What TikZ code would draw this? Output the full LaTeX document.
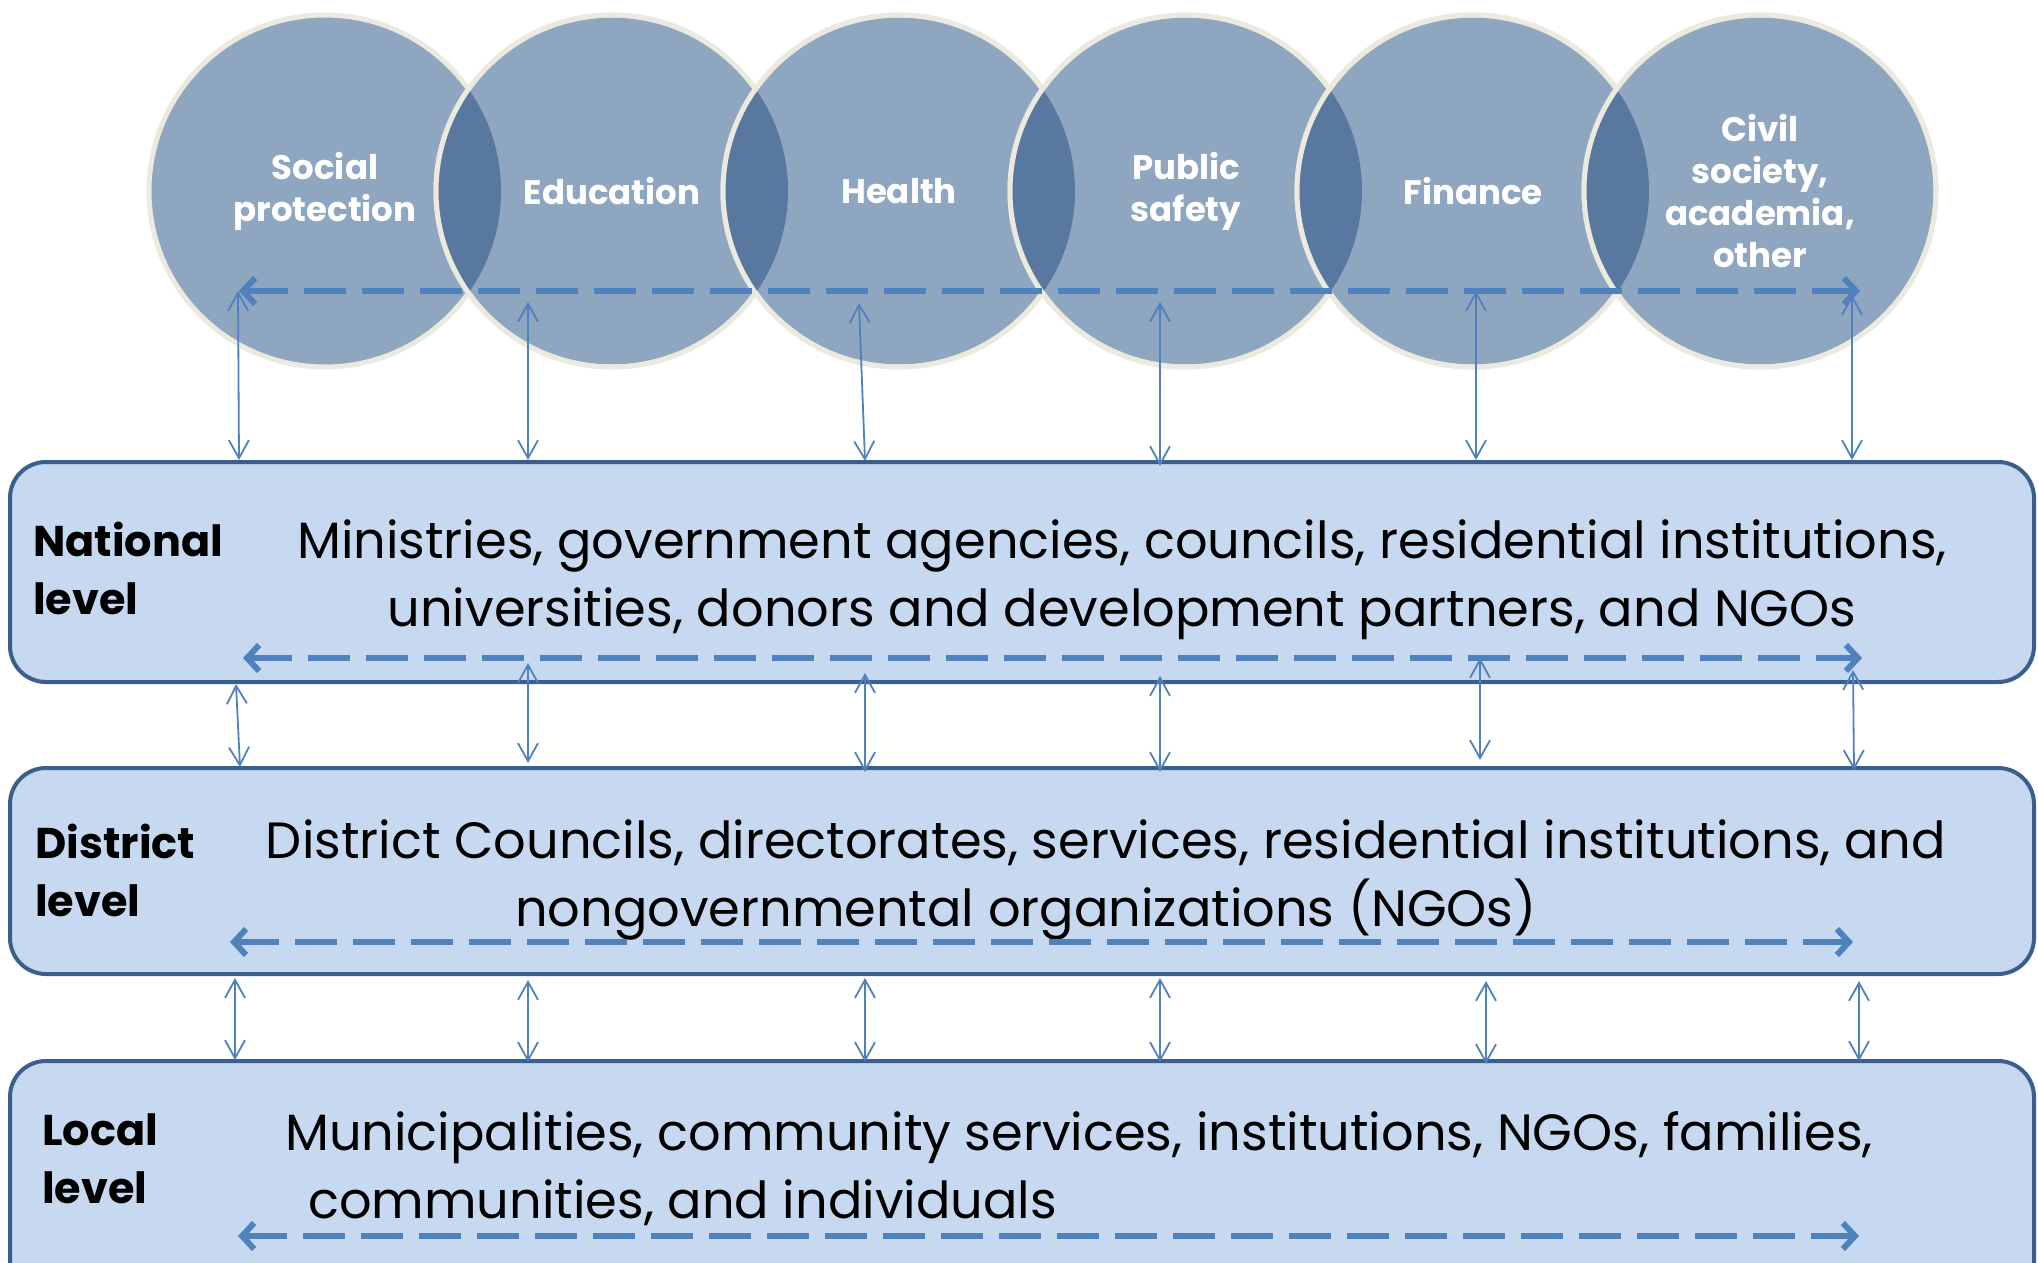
\documentclass[tikz,border=0pt]{standalone}
\usepackage{fontspec}
\setmainfont{Poppins}
\usetikzlibrary{arrows.meta}
\definecolor{sectorfill}{HTML}{8FA6C1}
\definecolor{lensfill}{HTML}{5878A0}
\definecolor{rimcol}{HTML}{ECE9DF}
\definecolor{boxfill}{HTML}{C6D9F0}
\definecolor{boxline}{HTML}{3B5F8C}
\definecolor{linkcol}{HTML}{4F81BD}
\begin{document}
\begin{tikzpicture}[x=1pt,y=-1pt]
  \tikzstyle{sector}=[circle, fill=sectorfill, draw=rimcol, line width=5pt, minimum size=352pt,
    inner sep=0pt, text=white, align=center, font=\fontsize{34}{42}\selectfont\bfseries]
  \tikzstyle{rim}=[draw=rimcol, line width=5pt]
  \tikzstyle{lens}=[fill=lensfill]
  \tikzstyle{levelbox}=[draw=boxline, fill=boxfill, line width=4pt, rounded corners=36pt,
    minimum width=2024pt, inner sep=0pt]
  \tikzstyle{levelname}=[anchor=west, align=left, inner sep=0pt, font=\fontsize{43}{58}\selectfont\bfseries]
  \tikzstyle{leveltext}=[inner sep=0pt, font=\fontsize{51}{68}\selectfont]
  \tikzstyle{link}=[draw=linkcol, line width=1.8pt, {Straight Barb[length=18pt,width=20pt]}-{Straight Barb[length=18pt,width=20pt]}]
  \tikzstyle{flow}=[draw=linkcol, line width=6pt, dash pattern=on 42pt off 16pt,
    {Straight Barb[length=12pt,width=26pt]}-{Straight Barb[length=12pt,width=26pt]}]

  \clip (0,0) rectangle (2038,1263);

  % sectors, each one overlapping the previous
  \node[sector] (soc) at (325,191) {Social\\protection};
  \node[sector] (edu) at (612,191) {Education};
  \begin{scope} \clip (soc.center) circle (176); \fill[lens] (edu.center) circle (176); \end{scope}
  \draw[rim] (edu.center) circle (176);
  \node[sector] (hea) at (899,191) {Health};
  \begin{scope} \clip (edu.center) circle (176); \fill[lens] (hea.center) circle (176); \end{scope}
  \draw[rim] (hea.center) circle (176);
  \node[sector] (pub) at (1186,191) {Public\\safety};
  \begin{scope} \clip (hea.center) circle (176); \fill[lens] (pub.center) circle (176); \end{scope}
  \draw[rim] (pub.center) circle (176);
  \node[sector] (fin) at (1473,191) {Finance};
  \begin{scope} \clip (pub.center) circle (176); \fill[lens] (fin.center) circle (176); \end{scope}
  \draw[rim] (fin.center) circle (176);
  \node[sector] (civ) at (1760,191) {Civil\\society,\\academia,\\other};
  \begin{scope} \clip (fin.center) circle (176); \fill[lens] (civ.center) circle (176); \end{scope}
  \draw[rim] (civ.center) circle (176);

  % levels
  \node[levelbox, minimum height=220pt] (nat) at (1022,572) {};
  \node[levelbox, minimum height=206pt] (dis) at (1022,871) {};
  \node[levelbox, minimum height=240pt] (loc) at (1022,1181) {};

  \node[levelname] (natname) at (33,568) {National\\level};
  \node[levelname] (disname) at (35,870) {District\\level};
  \node[levelname] (locname) at (42,1159) {Local\\level};

  \node[leveltext, align=center] (nattext) at (1122,580)
    {Ministries, government agencies, councils, residential institutions,\\
     universities, donors and development partners, and NGOs};
  \node[leveltext, align=center] (distext) at (1106,880)
    {District Councils, directorates, services, residential institutions, and\\
     nongovernmental organizations (NGOs)\hspace*{160pt}};
  \node[leveltext, align=left, anchor=west] (loctext) at (285,1169)
    {Municipalities, community services, institutions, NGOs, families,\\
     \hspace*{23pt}communities, and individuals};

  % horizontal exchange inside each level
  \foreach \n/\y/\xa/\xb in {sec/291/239/1860, nat/658/243/1862, dis/942/230/1853, loc/1236/238/1859}
    \draw[flow] (\xa,\y) coordinate (\n-l) -- (\xb,\y) coordinate (\n-r);

  % vertical links between levels
  \foreach \xa/\ya/\xb/\yb in {238/291/239/460, 528/302/528/460, 859/303/865/461,
      1160/302/1160/466, 1476/291/1476/460, 1852/295/1852/460,
      236/684/240/767, 528/663/528/763, 865/673/865/772,
      1160/676/1160/772, 1480/658/1480/760, 1853/670/1854/770,
      235/978/235/1060, 528/980/528/1062, 865/978/865/1062,
      1160/978/1160/1062, 1486/981/1486/1064, 1859/981/1859/1061}
    \draw[link] (\xa,\ya) -- (\xb,\yb);
\end{tikzpicture}
\end{document}
